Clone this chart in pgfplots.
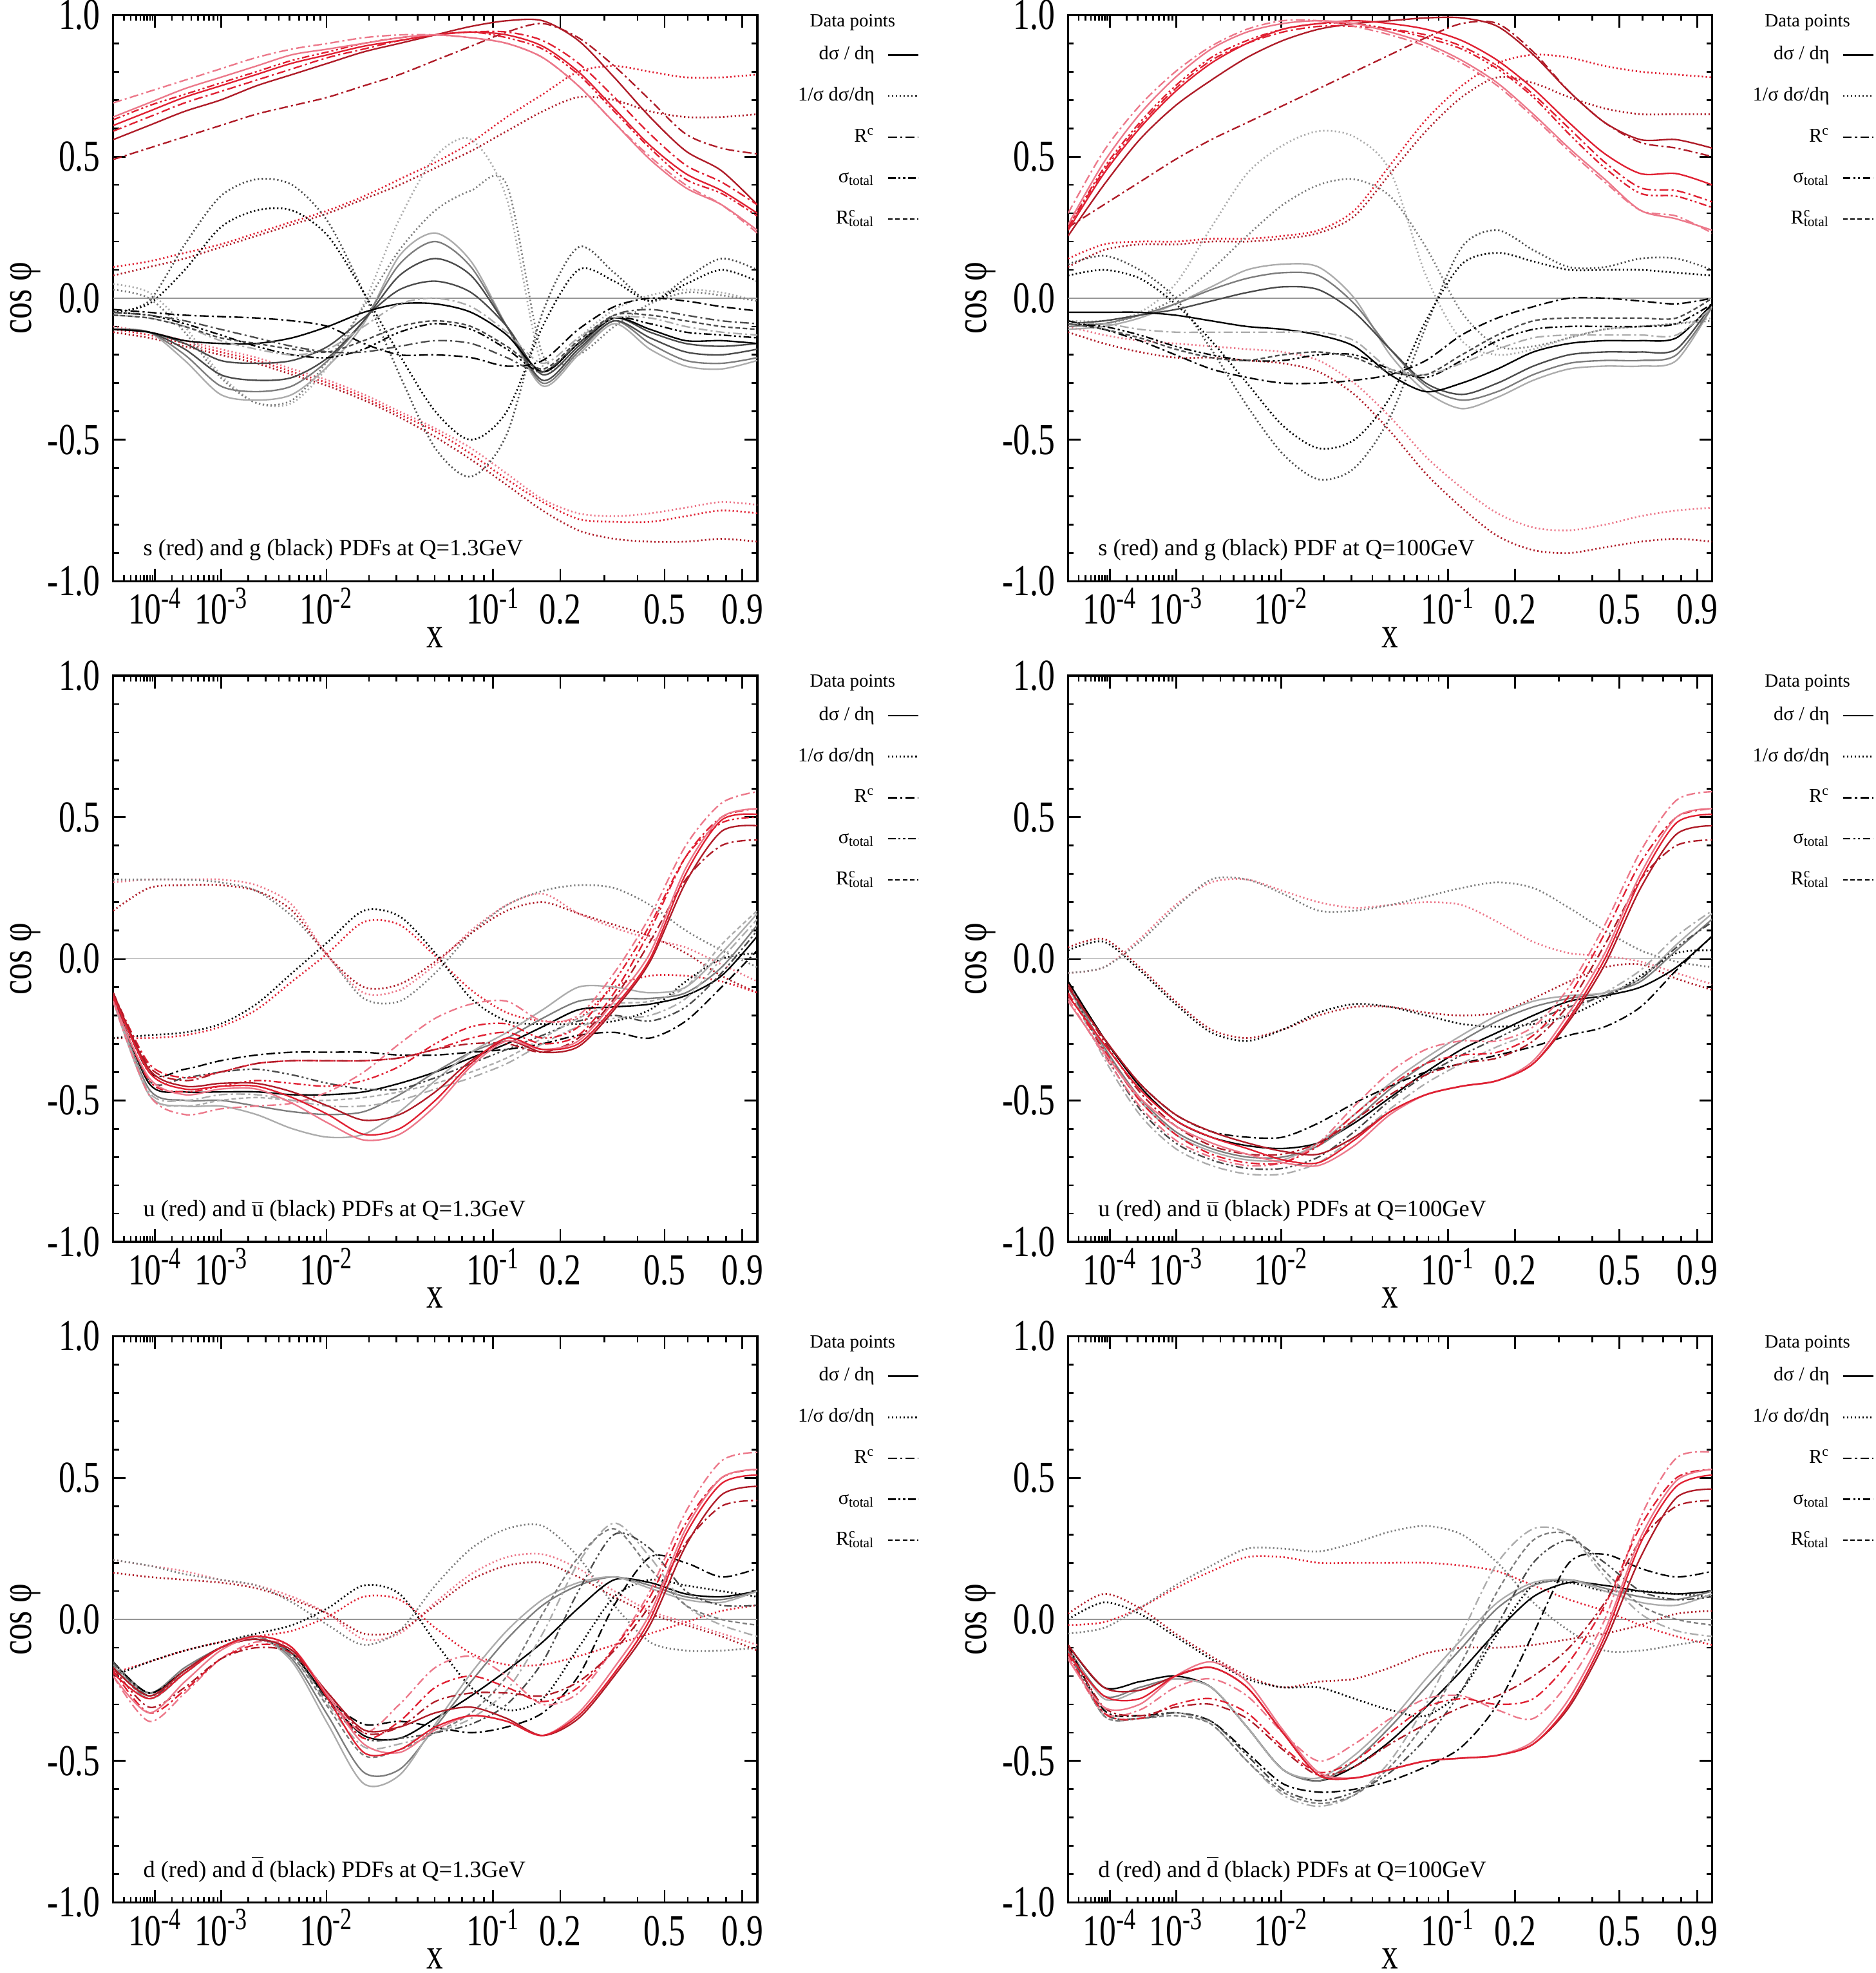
\documentclass[border=0pt]{standalone}
\usepackage{fontspec}
\setmainfont{Liberation Serif}
\newfontfamily\tickfont[FakeStretch=0.75]{Liberation Serif}
\usepackage{pgfplots}
\usepackage{pgfplotstable}
\pgfplotsset{compat=1.18}
\definecolor{dred}{RGB}{175,28,40}
\definecolor{rred}{RGB}{224,32,50}
\definecolor{pnk}{RGB}{236,120,138}
\definecolor{k1}{RGB}{75,75,75}
\definecolor{k2}{RGB}{125,125,125}
\definecolor{k3}{RGB}{172,172,172}
\definecolor{zl}{RGB}{150,150,150}
\tikzset{
 sol/.style={solid,line width=0.6pt},
 dot/.style={line width=0.7pt,dash pattern=on 0.55pt off 1.0pt},
 dd/.style={line width=0.6pt,dash pattern=on 3.5pt off 1.3pt on 0.8pt off 1.3pt},
 ddd/.style={line width=0.6pt,dash pattern=on 3pt off 1.1pt on 0.8pt off 1.1pt on 0.8pt off 1.1pt},
 dsh/.style={line width=0.6pt,dash pattern=on 1.8pt off 1.1pt},
 ptxt/.style={anchor=base west,font=\fontsize{9.3}{10}\selectfont},
 dtitle/.style={font=\fontsize{7.4}{8}\selectfont},
}
\newcommand{\pl}[3]{\addplot[#1,smooth,forget plot] table[x=u,y=#3]{#2};}
\newcommand{\leg}{%
 \addlegendimage{black,sol}\addlegendentry{dσ / dη}%
 \addlegendimage{black,dot}\addlegendentry{1/σ dσ/dη}%
 \addlegendimage{black,dd}\addlegendentry{R\textsuperscript{c}}%
 \addlegendimage{black,ddd}\addlegendentry{σ\textsubscript{total}}%
 \addlegendimage{black,dsh}\addlegendentry{R\rlap{\textsuperscript{c}}\textsubscript{total}}%
 \addplot[zl,line width=0.4pt,forget plot] coordinates {(0.1,0) (1,0)};%
}
\pgfplotsset{
 panel/.style={
  scale only axis, width=256pt, height=225pt, anchor=south west,
  xmin=0.1, xmax=1, ymin=-1, ymax=1,
  clip mode=individual,
  xtick={0.15849,0.25119,0.39811,0.63096,0.72478,0.87055,0.97915},
  xticklabels={10\textsuperscript{-4},10\textsuperscript{-3},10\textsuperscript{-2},10\textsuperscript{-1},0.2,0.5,0.9},
  minor xtick={0.11487,0.12457,0.13195,0.13797,0.14310,0.14758,0.15157,0.15518,0.18206,0.19743,0.20913,0.21867,0.22680,0.23390,0.24022,0.24595,0.28854,0.31291,0.33145,0.34657,0.35945,0.37071,0.38073,0.38980,0.45730,0.49592,0.52530,0.54927,0.56969,0.58753,0.60341,0.61778,0.78602,0.83255,0.90288,0.93115,0.95635},
  ytick={-1,-0.5,0,0.5,1},
  yticklabels={-1.0,-0.5,0.0,0.5,1.0},
  minor ytick={-0.9,-0.8,-0.7,-0.6,-0.4,-0.3,-0.2,-0.1,0.1,0.2,0.3,0.4,0.6,0.7,0.8,0.9},
  tick align=inside, tick pos=both,
  major tick length=5pt, minor tick length=2.3pt,
  every tick/.style={black,line width=0.7pt},
  axis line style={line width=0.8pt},
  ticklabel style={font=\fontsize{17.6}{19}\tickfont, inner sep=0pt},
  xticklabel style={anchor=base, yshift=-17pt},
  yticklabel style={anchor=east, xshift=-5pt},
  xlabel={x}, ylabel={cos φ},
  label style={font=\fontsize{17.6}{19}\tickfont, inner sep=0pt},
  xlabel style={at={(axis description cs:0.5,-0.099)}, anchor=center},
  ylabel style={at={(axis description cs:-0.136,0.5)}, anchor=center},
  legend cell align=right, legend plot pos=right,
  legend image code/.code={\draw[##1] (0pt,0pt) -- (12pt,0pt);},
  legend style={at={(1.252,0.953)}, anchor=north east, draw=none, fill=none,
   font=\fontsize{7.8}{8.5}\selectfont, row sep=6.1pt, column sep=4pt, inner sep=0pt,
   nodes={inner sep=1pt, text height=6pt, text depth=2.2pt}},
 },
}
% ---------------- panel 1: s and g, Q=1.3 GeV ----------------
\pgfplotstableread{
name c1 c2 c3 c4 c5 c6 c7 c8 c9 c10 c11 c12 c13 c14 c15 c16 c17 c18 c19
u 0.10 0.15 0.20 0.25 0.30 0.35 0.40 0.45 0.50 0.55 0.60 0.65 0.70 0.75 0.80 0.85 0.90 0.95 1.00
A1 0.49 0.53 0.57 0.61 0.65 0.68 0.71 0.75 0.79 0.84 0.89 0.94 0.97 0.92 0.82 0.70 0.58 0.53 0.51
A2 0.56 0.61 0.66 0.70 0.75 0.79 0.83 0.87 0.90 0.93 0.96 0.98 0.98 0.91 0.78 0.64 0.52 0.45 0.33
A3 0.59 0.64 0.69 0.73 0.77 0.81 0.85 0.88 0.91 0.93 0.94 0.94 0.91 0.83 0.71 0.58 0.47 0.41 0.33
A4 0.61 0.66 0.71 0.75 0.79 0.83 0.86 0.89 0.91 0.93 0.94 0.93 0.89 0.80 0.67 0.54 0.44 0.38 0.30
A5 0.63 0.68 0.72 0.76 0.80 0.84 0.87 0.90 0.92 0.93 0.94 0.92 0.88 0.79 0.66 0.53 0.42 0.37 0.29
A6 0.64 0.69 0.74 0.78 0.82 0.86 0.88 0.90 0.92 0.93 0.92 0.90 0.85 0.75 0.62 0.49 0.39 0.33 0.24
A7 0.69 0.73 0.77 0.81 0.85 0.88 0.90 0.92 0.93 0.93 0.92 0.90 0.85 0.75 0.62 0.50 0.40 0.33 0.23
D1 0.11 0.13 0.16 0.19 0.23 0.27 0.31 0.36 0.42 0.48 0.55 0.64 0.72 0.80 0.82 0.80 0.78 0.78 0.79
D2 0.08 0.11 0.14 0.18 0.22 0.26 0.30 0.35 0.40 0.46 0.52 0.59 0.66 0.71 0.70 0.66 0.64 0.64 0.65
D3 -0.10 -0.12 -0.15 -0.18 -0.21 -0.25 -0.29 -0.34 -0.40 -0.46 -0.53 -0.62 -0.71 -0.76 -0.77 -0.76 -0.74 -0.72 -0.73
D4 -0.11 -0.13 -0.16 -0.19 -0.22 -0.26 -0.30 -0.35 -0.41 -0.47 -0.55 -0.64 -0.72 -0.78 -0.79 -0.79 -0.77 -0.75 -0.76
D5 -0.12 -0.14 -0.17 -0.20 -0.23 -0.27 -0.31 -0.36 -0.42 -0.49 -0.57 -0.66 -0.75 -0.82 -0.85 -0.86 -0.86 -0.85 -0.86
G1 -0.05 -0.01 0.19 0.36 0.42 0.40 0.27 0.02 -0.27 -0.53 -0.63 -0.48 -0.05 0.18 0.09 -0.01 0.07 0.14 0.10
G2 -0.05 -0.02 0.10 0.25 0.31 0.31 0.22 0.02 -0.20 -0.40 -0.50 -0.40 -0.10 0.10 0.06 -0.01 0.05 0.10 0.06
G3 0.05 0.02 -0.10 -0.27 -0.37 -0.37 -0.24 -0.02 0.28 0.50 0.56 0.35 -0.24 -0.14 -0.04 0.01 0.03 0.02 -0.01
G4 0.03 0.00 -0.12 -0.28 -0.37 -0.36 -0.22 -0.03 0.17 0.31 0.38 0.40 -0.20 -0.20 -0.10 -0.02 0.02 0.01 -0.01
S1 -0.11 -0.12 -0.22 -0.34 -0.36 -0.34 -0.24 -0.09 0.15 0.23 0.13 -0.10 -0.31 -0.20 -0.09 -0.18 -0.24 -0.25 -0.22
S2 -0.11 -0.12 -0.20 -0.31 -0.33 -0.31 -0.22 -0.08 0.12 0.20 0.11 -0.10 -0.30 -0.19 -0.08 -0.16 -0.22 -0.23 -0.21
S3 -0.11 -0.12 -0.18 -0.27 -0.29 -0.28 -0.21 -0.08 0.08 0.14 0.08 -0.10 -0.29 -0.18 -0.08 -0.14 -0.19 -0.20 -0.18
S4 -0.11 -0.12 -0.16 -0.22 -0.23 -0.22 -0.17 -0.07 0.03 0.06 0.02 -0.10 -0.27 -0.17 -0.07 -0.12 -0.16 -0.17 -0.16
S5 -0.11 -0.12 -0.15 -0.16 -0.16 -0.14 -0.10 -0.05 -0.02 -0.02 -0.05 -0.13 -0.26 -0.16 -0.07 -0.11 -0.15 -0.15 -0.16
H1 -0.04 -0.05 -0.06 -0.065 -0.07 -0.08 -0.10 -0.16 -0.20 -0.20 -0.21 -0.24 -0.22 -0.11 -0.03 0.00 -0.01 -0.03 -0.045
H2 -0.05 -0.06 -0.09 -0.13 -0.17 -0.20 -0.21 -0.18 -0.12 -0.09 -0.11 -0.18 -0.26 -0.16 -0.07 -0.09 -0.12 -0.13 -0.14
H3 -0.06 -0.07 -0.10 -0.15 -0.18 -0.20 -0.18 -0.10 -0.02 0.00 -0.03 -0.12 -0.23 -0.14 -0.07 -0.07 -0.10 -0.12 -0.13
H4 -0.06 -0.07 -0.10 -0.14 -0.16 -0.18 -0.19 -0.15 -0.10 -0.08 -0.10 -0.17 -0.25 -0.15 -0.06 -0.06 -0.08 -0.10 -0.11
H5 -0.05 -0.06 -0.08 -0.11 -0.14 -0.17 -0.19 -0.19 -0.17 -0.15 -0.16 -0.21 -0.26 -0.16 -0.06 -0.04 -0.06 -0.08 -0.09
}\Ra
\pgfplotstabletranspose[colnames from=name]\Ta{\Ra}
% ---------------- panel 2: s and g, Q=100 GeV ----------------
\pgfplotstableread{
name c1 c2 c3 c4 c5 c6 c7 c8 c9 c10 c11 c12 c13 c14 c15 c16 c17 c18 c19
u 0.10 0.15 0.20 0.25 0.30 0.35 0.40 0.45 0.50 0.55 0.60 0.65 0.70 0.75 0.80 0.85 0.90 0.95 1.00
B1 0.25 0.33 0.41 0.49 0.56 0.62 0.68 0.74 0.80 0.86 0.92 0.97 0.97 0.87 0.73 0.62 0.55 0.53 0.50
B2 0.22 0.40 0.56 0.68 0.77 0.85 0.91 0.95 0.97 0.98 0.99 0.99 0.96 0.86 0.73 0.62 0.56 0.56 0.53
B3 0.24 0.44 0.60 0.73 0.83 0.90 0.95 0.97 0.98 0.97 0.95 0.91 0.84 0.74 0.62 0.51 0.44 0.44 0.40
B4 0.25 0.45 0.61 0.74 0.84 0.90 0.94 0.96 0.96 0.95 0.93 0.89 0.82 0.72 0.60 0.48 0.39 0.38 0.34
B5 0.25 0.46 0.62 0.75 0.85 0.91 0.95 0.97 0.97 0.95 0.92 0.88 0.81 0.71 0.58 0.46 0.37 0.36 0.32
B6 0.26 0.48 0.65 0.78 0.88 0.94 0.97 0.98 0.97 0.94 0.90 0.84 0.76 0.65 0.53 0.42 0.31 0.28 0.24
B7 0.30 0.52 0.68 0.80 0.89 0.95 0.98 0.98 0.96 0.93 0.89 0.83 0.75 0.64 0.52 0.41 0.31 0.29 0.23
E1 0.14 0.19 0.20 0.20 0.21 0.21 0.22 0.24 0.31 0.47 0.63 0.75 0.83 0.86 0.85 0.82 0.80 0.79 0.78
E2 0.11 0.17 0.19 0.19 0.20 0.20 0.21 0.23 0.29 0.44 0.59 0.71 0.78 0.76 0.71 0.67 0.65 0.65 0.65
E3 -0.10 -0.13 -0.15 -0.16 -0.17 -0.18 -0.19 -0.22 -0.30 -0.42 -0.56 -0.67 -0.76 -0.81 -0.82 -0.80 -0.77 -0.75 -0.74
E4 -0.12 -0.16 -0.19 -0.21 -0.21 -0.22 -0.23 -0.26 -0.34 -0.47 -0.62 -0.74 -0.84 -0.89 -0.90 -0.88 -0.86 -0.85 -0.86
F1 -0.08 -0.08 -0.05 0.05 0.25 0.44 0.54 0.59 0.57 0.45 0.08 -0.15 -0.20 -0.18 -0.14 -0.11 -0.10 -0.09 -0.07
F2 -0.09 -0.09 -0.06 0.00 0.10 0.22 0.33 0.40 0.42 0.36 0.18 -0.05 -0.17 -0.17 -0.14 -0.11 -0.10 -0.09 -0.08
GD1 0.12 0.15 0.10 0.00 -0.18 -0.38 -0.55 -0.64 -0.60 -0.42 -0.10 0.18 0.24 0.17 0.11 0.11 0.14 0.14 0.10
GD2 0.08 0.10 0.07 -0.02 -0.15 -0.30 -0.45 -0.53 -0.50 -0.35 -0.08 0.12 0.16 0.13 0.10 0.10 0.10 0.09 0.08
SS1 -0.11 -0.10 -0.07 -0.02 0.04 0.10 0.12 0.11 0.00 -0.20 -0.33 -0.39 -0.35 -0.29 -0.25 -0.24 -0.24 -0.22 -0.03
SS2 -0.10 -0.09 -0.06 -0.02 0.03 0.07 0.09 0.08 -0.02 -0.18 -0.31 -0.36 -0.33 -0.27 -0.23 -0.22 -0.22 -0.20 -0.03
SS3 -0.09 -0.08 -0.06 -0.04 -0.01 0.02 0.04 0.03 -0.05 -0.18 -0.30 -0.34 -0.30 -0.24 -0.20 -0.19 -0.19 -0.18 -0.02
SS4 -0.05 -0.05 -0.05 -0.06 -0.08 -0.10 -0.11 -0.13 -0.17 -0.27 -0.33 -0.30 -0.25 -0.19 -0.16 -0.15 -0.15 -0.14 -0.02
DP1 -0.08 -0.11 -0.15 -0.20 -0.25 -0.28 -0.30 -0.30 -0.29 -0.27 -0.22 -0.13 -0.07 -0.03 0.00 0.00 -0.01 -0.02 0.00
DP2 -0.09 -0.10 -0.13 -0.17 -0.20 -0.22 -0.22 -0.20 -0.20 -0.25 -0.28 -0.22 -0.15 -0.11 -0.10 -0.10 -0.10 -0.09 -0.02
DP3 -0.09 -0.09 -0.11 -0.12 -0.12 -0.12 -0.12 -0.12 -0.15 -0.25 -0.27 -0.23 -0.18 -0.14 -0.13 -0.13 -0.13 -0.13 -0.03
DP4 -0.09 -0.11 -0.14 -0.18 -0.21 -0.22 -0.20 -0.19 -0.21 -0.26 -0.27 -0.20 -0.13 -0.08 -0.07 -0.07 -0.07 -0.07 0.00
}\Rb
\pgfplotstabletranspose[colnames from=name]\Tb{\Rb}
% ---------------- panel 3: u and ubar, Q=1.3 GeV ----------------
\pgfplotstableread{
name c1 c2 c3 c4 c5 c6 c7 c8 c9 c10 c11 c12 c13 c14 c15 c16 c17 c18 c19
u 0.10 0.15 0.20 0.25 0.30 0.35 0.40 0.45 0.50 0.55 0.60 0.65 0.70 0.75 0.80 0.85 0.90 0.95 1.00
U1 -0.13 -0.40 -0.46 -0.45 -0.45 -0.49 -0.55 -0.62 -0.60 -0.50 -0.37 -0.28 -0.32 -0.30 -0.17 0.00 0.30 0.49 0.51
U2 -0.15 -0.42 -0.48 -0.46 -0.46 -0.51 -0.58 -0.64 -0.62 -0.52 -0.38 -0.29 -0.32 -0.29 -0.15 0.02 0.32 0.50 0.53
U3 -0.12 -0.39 -0.45 -0.44 -0.44 -0.47 -0.52 -0.57 -0.55 -0.47 -0.36 -0.29 -0.33 -0.31 -0.18 -0.01 0.27 0.45 0.47
U4 -0.12 -0.37 -0.42 -0.40 -0.37 -0.36 -0.36 -0.36 -0.35 -0.32 -0.28 -0.26 -0.30 -0.27 -0.12 0.10 0.36 0.50 0.53
U5 -0.15 -0.48 -0.55 -0.53 -0.52 -0.51 -0.47 -0.40 -0.30 -0.21 -0.16 -0.15 -0.22 -0.20 -0.05 0.15 0.40 0.55 0.59
U6 -0.14 -0.43 -0.47 -0.45 -0.43 -0.44 -0.45 -0.43 -0.38 -0.30 -0.24 -0.23 -0.28 -0.24 -0.08 0.12 0.36 0.48 0.50
U7 -0.12 -0.38 -0.43 -0.40 -0.37 -0.36 -0.36 -0.36 -0.35 -0.32 -0.30 -0.30 -0.33 -0.28 -0.14 0.06 0.28 0.40 0.42
FA1 0.27 0.28 0.28 0.28 0.26 0.19 0.01 -0.12 -0.11 -0.02 0.10 0.19 0.23 0.16 0.11 0.07 0.04 -0.02 -0.08
FA2 0.28 0.28 0.28 0.27 0.24 0.15 0.01 -0.14 -0.15 -0.05 0.09 0.19 0.24 0.26 0.25 0.19 0.10 0.03 -0.03
FA3 0.17 0.25 0.26 0.26 0.24 0.17 0.01 -0.10 -0.09 -0.01 0.09 0.17 0.20 0.16 0.12 0.08 0.02 -0.06 -0.12
FB1 -0.28 -0.28 -0.27 -0.24 -0.18 -0.08 0.02 0.13 0.12 0.01 -0.11 -0.19 -0.22 -0.21 -0.10 -0.06 -0.06 -0.08 -0.12
FB2 -0.28 -0.27 -0.26 -0.23 -0.16 -0.05 0.06 0.17 0.15 0.02 -0.14 -0.22 -0.23 -0.23 -0.22 -0.18 -0.08 0.00 0.02
BS1 -0.13 -0.44 -0.47 -0.47 -0.47 -0.48 -0.48 -0.47 -0.44 -0.40 -0.35 -0.30 -0.24 -0.18 -0.17 -0.16 -0.13 -0.06 0.08
BS2 -0.14 -0.46 -0.50 -0.50 -0.52 -0.54 -0.55 -0.54 -0.48 -0.40 -0.33 -0.28 -0.21 -0.15 -0.14 -0.14 -0.12 -0.03 0.12
BS3 -0.15 -0.48 -0.52 -0.52 -0.55 -0.60 -0.63 -0.62 -0.54 -0.43 -0.33 -0.26 -0.18 -0.10 -0.10 -0.12 -0.10 0.02 0.16
BD1 -0.12 -0.40 -0.39 -0.36 -0.34 -0.33 -0.33 -0.33 -0.34 -0.34 -0.33 -0.32 -0.30 -0.27 -0.26 -0.28 -0.22 -0.10 0.03
BD2 -0.14 -0.47 -0.50 -0.48 -0.48 -0.50 -0.52 -0.52 -0.50 -0.46 -0.42 -0.37 -0.30 -0.24 -0.21 -0.20 -0.14 0.00 0.14
BD3 -0.13 -0.43 -0.42 -0.40 -0.39 -0.41 -0.44 -0.46 -0.46 -0.42 -0.37 -0.32 -0.27 -0.22 -0.20 -0.22 -0.17 -0.05 0.10
BD4 -0.14 -0.48 -0.52 -0.50 -0.49 -0.50 -0.50 -0.49 -0.47 -0.44 -0.40 -0.35 -0.28 -0.21 -0.16 -0.15 -0.10 0.05 0.17
}\Rc
\pgfplotstabletranspose[colnames from=name]\Tc{\Rc}
% ---------------- panel 4: u and ubar, Q=100 GeV ----------------
\pgfplotstableread{
name c1 c2 c3 c4 c5 c6 c7 c8 c9 c10 c11 c12 c13 c14 c15 c16 c17 c18 c19
u 0.10 0.15 0.20 0.25 0.30 0.35 0.40 0.45 0.50 0.55 0.60 0.65 0.70 0.75 0.80 0.85 0.90 0.95 1.00
V1 -0.13 -0.30 -0.46 -0.57 -0.63 -0.67 -0.71 -0.72 -0.64 -0.54 -0.48 -0.45 -0.43 -0.37 -0.21 0.00 0.28 0.48 0.51
V2 -0.15 -0.33 -0.49 -0.59 -0.65 -0.69 -0.72 -0.73 -0.66 -0.55 -0.48 -0.45 -0.43 -0.36 -0.19 0.02 0.30 0.50 0.53
V3 -0.10 -0.28 -0.44 -0.55 -0.61 -0.65 -0.68 -0.69 -0.63 -0.54 -0.48 -0.45 -0.43 -0.37 -0.22 -0.02 0.25 0.44 0.47
V4 -0.14 -0.34 -0.52 -0.64 -0.70 -0.73 -0.72 -0.65 -0.52 -0.40 -0.32 -0.29 -0.29 -0.24 -0.10 0.12 0.38 0.56 0.59
V5 -0.12 -0.32 -0.50 -0.62 -0.69 -0.72 -0.72 -0.66 -0.55 -0.45 -0.37 -0.34 -0.33 -0.27 -0.13 0.09 0.34 0.50 0.53
V6 -0.09 -0.29 -0.47 -0.59 -0.66 -0.69 -0.69 -0.65 -0.57 -0.48 -0.41 -0.37 -0.35 -0.29 -0.16 0.05 0.28 0.40 0.42
WA1 0.04 0.07 -0.03 -0.15 -0.25 -0.28 -0.25 -0.20 -0.17 -0.17 -0.19 -0.20 -0.19 -0.14 -0.08 -0.03 -0.02 -0.07 -0.11
WA2 0.03 0.06 -0.04 -0.16 -0.26 -0.29 -0.25 -0.19 -0.16 -0.17 -0.20 -0.23 -0.24 -0.23 -0.20 -0.14 -0.06 0.02 0.03
WB1 -0.05 -0.03 0.07 0.19 0.27 0.28 0.24 0.20 0.18 0.19 0.20 0.19 0.13 0.06 0.02 0.01 -0.01 -0.05 -0.09
WB2 -0.05 -0.03 0.06 0.18 0.28 0.28 0.23 0.17 0.17 0.19 0.22 0.25 0.27 0.25 0.18 0.10 0.03 -0.01 -0.03
XS1 -0.08 -0.28 -0.45 -0.57 -0.63 -0.66 -0.67 -0.65 -0.58 -0.49 -0.40 -0.32 -0.26 -0.20 -0.15 -0.13 -0.10 -0.03 0.08
XS2 -0.09 -0.31 -0.49 -0.61 -0.67 -0.70 -0.70 -0.66 -0.57 -0.46 -0.37 -0.29 -0.22 -0.17 -0.14 -0.12 -0.08 0.03 0.14
XS3 -0.10 -0.32 -0.50 -0.62 -0.68 -0.71 -0.71 -0.65 -0.55 -0.44 -0.35 -0.27 -0.20 -0.15 -0.13 -0.12 -0.07 0.05 0.16
XD1 -0.08 -0.28 -0.44 -0.55 -0.61 -0.63 -0.63 -0.58 -0.51 -0.45 -0.40 -0.37 -0.34 -0.31 -0.27 -0.24 -0.17 -0.04 0.08
XD2 -0.10 -0.35 -0.55 -0.67 -0.73 -0.76 -0.76 -0.72 -0.63 -0.53 -0.44 -0.37 -0.31 -0.26 -0.19 -0.12 -0.04 0.08 0.17
XD3 -0.09 -0.33 -0.53 -0.65 -0.71 -0.74 -0.74 -0.70 -0.61 -0.50 -0.41 -0.34 -0.28 -0.22 -0.17 -0.13 -0.07 0.04 0.13
}\Rd
\pgfplotstabletranspose[colnames from=name]\Td{\Rd}
% ---------------- panel 5: d and dbar, Q=1.3 GeV ----------------
\pgfplotstableread{
name c1 c2 c3 c4 c5 c6 c7 c8 c9 c10 c11 c12 c13 c14 c15 c16 c17 c18 c19
u 0.10 0.15 0.20 0.25 0.30 0.35 0.40 0.45 0.50 0.55 0.60 0.65 0.70 0.75 0.80 0.85 0.90 0.95 1.00
R1 -0.19 -0.28 -0.19 -0.10 -0.06 -0.10 -0.28 -0.47 -0.46 -0.38 -0.34 -0.36 -0.41 -0.34 -0.19 0.00 0.30 0.48 0.51
R2 -0.20 -0.33 -0.22 -0.11 -0.06 -0.10 -0.27 -0.44 -0.47 -0.39 -0.34 -0.36 -0.41 -0.33 -0.17 0.02 0.32 0.50 0.53
R3 -0.17 -0.27 -0.18 -0.10 -0.07 -0.11 -0.26 -0.39 -0.38 -0.33 -0.31 -0.35 -0.41 -0.35 -0.20 -0.02 0.26 0.44 0.47
R4 -0.20 -0.36 -0.26 -0.14 -0.08 -0.10 -0.27 -0.40 -0.30 -0.17 -0.13 -0.20 -0.30 -0.26 -0.10 0.10 0.38 0.56 0.59
R5 -0.18 -0.33 -0.25 -0.14 -0.09 -0.11 -0.27 -0.42 -0.36 -0.24 -0.20 -0.24 -0.29 -0.24 -0.10 0.08 0.34 0.50 0.53
R6 -0.17 -0.31 -0.24 -0.14 -0.10 -0.12 -0.26 -0.40 -0.38 -0.29 -0.26 -0.26 -0.27 -0.22 -0.11 0.05 0.27 0.40 0.42
DA1 0.21 0.19 0.17 0.14 0.12 0.08 0.02 -0.07 -0.05 0.06 0.16 0.22 0.23 0.18 0.10 0.03 -0.01 -0.05 -0.09
DA2 0.21 0.19 0.16 0.14 0.12 0.06 -0.02 -0.09 -0.04 0.12 0.25 0.32 0.33 0.22 0.05 -0.08 -0.11 -0.11 -0.10
DA3 0.165 0.15 0.14 0.13 0.11 0.07 0.02 -0.05 -0.04 0.05 0.14 0.19 0.20 0.15 0.08 0.02 -0.02 -0.06 -0.11
DB1 -0.19 -0.15 -0.11 -0.08 -0.06 -0.04 0.01 0.08 0.07 -0.03 -0.12 -0.16 -0.16 -0.13 -0.09 -0.05 -0.01 0.03 0.05
DB2 -0.20 -0.15 -0.11 -0.08 -0.05 -0.02 0.04 0.12 0.09 -0.08 -0.24 -0.32 -0.28 -0.10 0.08 0.14 0.12 0.10 0.08
K1 -0.15 -0.26 -0.18 -0.10 -0.07 -0.12 -0.28 -0.41 -0.42 -0.35 -0.27 -0.18 -0.08 0.04 0.14 0.13 0.09 0.08 0.10
K2 -0.15 -0.26 -0.17 -0.10 -0.06 -0.14 -0.34 -0.54 -0.53 -0.38 -0.22 -0.07 0.05 0.12 0.15 0.12 0.08 0.07 0.10
K3 -0.15 -0.27 -0.18 -0.10 -0.06 -0.15 -0.37 -0.58 -0.55 -0.37 -0.19 -0.04 0.07 0.13 0.15 0.11 0.07 0.06 0.10
L1 -0.15 -0.26 -0.18 -0.10 -0.07 -0.12 -0.28 -0.37 -0.36 -0.38 -0.40 -0.38 -0.33 -0.20 0.05 0.22 0.20 0.15 0.18
L2 -0.16 -0.28 -0.19 -0.10 -0.06 -0.13 -0.30 -0.45 -0.44 -0.40 -0.35 -0.25 -0.05 0.20 0.34 0.22 0.05 -0.02 -0.06
L3 -0.15 -0.27 -0.19 -0.10 -0.07 -0.12 -0.29 -0.42 -0.42 -0.40 -0.37 -0.30 -0.15 0.10 0.30 0.25 0.10 0.05 0.05
L4 -0.16 -0.28 -0.19 -0.10 -0.06 -0.13 -0.31 -0.48 -0.46 -0.40 -0.33 -0.20 0.02 0.22 0.32 0.18 0.05 0.00 -0.02
}\Re
\pgfplotstabletranspose[colnames from=name]\Te{\Re}
% ---------------- panel 6: d and dbar, Q=100 GeV ----------------
\pgfplotstableread{
name c1 c2 c3 c4 c5 c6 c7 c8 c9 c10 c11 c12 c13 c14 c15 c16 c17 c18 c19
u 0.10 0.15 0.20 0.25 0.30 0.35 0.40 0.45 0.50 0.55 0.60 0.65 0.70 0.75 0.80 0.85 0.90 0.95 1.00
P1 -0.12 -0.27 -0.28 -0.20 -0.17 -0.24 -0.40 -0.55 -0.56 -0.53 -0.50 -0.49 -0.48 -0.44 -0.30 -0.06 0.27 0.47 0.51
P2 -0.14 -0.31 -0.30 -0.20 -0.15 -0.22 -0.39 -0.54 -0.56 -0.53 -0.50 -0.49 -0.48 -0.43 -0.28 -0.04 0.29 0.49 0.53
P3 -0.09 -0.24 -0.25 -0.20 -0.17 -0.24 -0.40 -0.55 -0.56 -0.53 -0.50 -0.49 -0.48 -0.44 -0.31 -0.08 0.22 0.43 0.46
P4 -0.13 -0.33 -0.32 -0.24 -0.21 -0.27 -0.40 -0.50 -0.44 -0.35 -0.28 -0.27 -0.32 -0.35 -0.22 0.00 0.36 0.57 0.59
P5 -0.12 -0.33 -0.35 -0.30 -0.28 -0.33 -0.45 -0.54 -0.50 -0.40 -0.31 -0.28 -0.30 -0.28 -0.15 0.05 0.33 0.50 0.53
P6 -0.10 -0.31 -0.34 -0.31 -0.30 -0.35 -0.46 -0.55 -0.52 -0.44 -0.37 -0.31 -0.27 -0.20 -0.10 0.06 0.28 0.40 0.42
PA1 0.02 0.09 0.04 -0.05 -0.13 -0.20 -0.24 -0.22 -0.21 -0.17 -0.12 -0.10 -0.10 -0.09 -0.07 -0.05 -0.02 0.02 0.03
PA2 0.00 0.06 0.02 -0.06 -0.14 -0.21 -0.24 -0.24 -0.28 -0.32 -0.34 -0.25 -0.05 0.12 0.13 0.10 0.10 0.09 0.08
PB1 -0.02 -0.01 0.04 0.11 0.17 0.22 0.22 0.20 0.20 0.20 0.20 0.19 0.17 0.12 0.07 0.03 -0.02 -0.06 -0.09
PB2 -0.05 -0.03 0.04 0.12 0.19 0.25 0.25 0.24 0.27 0.31 0.33 0.30 0.20 0.06 -0.04 -0.11 -0.11 -0.09 -0.07
Q1 -0.09 -0.24 -0.22 -0.20 -0.24 -0.38 -0.53 -0.57 -0.52 -0.43 -0.31 -0.18 -0.04 0.08 0.13 0.12 0.10 0.09 0.10
Q2 -0.10 -0.27 -0.24 -0.21 -0.24 -0.38 -0.53 -0.57 -0.50 -0.38 -0.24 -0.10 0.04 0.12 0.14 0.11 0.08 0.07 0.10
Q3 -0.10 -0.28 -0.25 -0.21 -0.24 -0.38 -0.53 -0.56 -0.48 -0.36 -0.21 -0.07 0.06 0.13 0.14 0.10 0.06 0.05 0.09
Q4 -0.09 -0.32 -0.34 -0.33 -0.36 -0.47 -0.58 -0.61 -0.60 -0.57 -0.52 -0.45 -0.30 -0.05 0.20 0.23 0.18 0.15 0.17
Q5 -0.11 -0.34 -0.35 -0.33 -0.37 -0.50 -0.62 -0.66 -0.62 -0.50 -0.30 -0.05 0.20 0.32 0.30 0.15 0.02 -0.04 -0.06
Q6 -0.10 -0.33 -0.35 -0.33 -0.36 -0.48 -0.60 -0.64 -0.61 -0.54 -0.42 -0.25 -0.02 0.20 0.28 0.20 0.10 0.07 0.08
Q7 -0.11 -0.34 -0.35 -0.34 -0.37 -0.50 -0.61 -0.65 -0.62 -0.52 -0.36 -0.15 0.10 0.28 0.30 0.17 0.05 0.00 -0.02
}\Rf
\pgfplotstabletranspose[colnames from=name]\Tf{\Rf}
\begin{document}%
\begin{tikzpicture}
\path[use as bounding box] (0,0) rectangle (745.5pt,784pt);
% ===== panel 1 =====
\begin{axis}[panel,at={(45pt,553pt)}]
\leg
\pl{rred,dot}{\Ta}{D1}\pl{dred,dot}{\Ta}{D2}\pl{pnk,dot}{\Ta}{D3}\pl{rred,dot}{\Ta}{D4}\pl{dred,dot}{\Ta}{D5}
\pl{k1,dot}{\Ta}{G1}\pl{black,dot}{\Ta}{G2}\pl{k3,dot}{\Ta}{G3}\pl{k2,dot}{\Ta}{G4}
\pl{k3,sol}{\Ta}{S1}\pl{k2,sol}{\Ta}{S2}\pl{k1,sol}{\Ta}{S3}\pl{k1,sol}{\Ta}{S4}\pl{black,sol}{\Ta}{S5}
\pl{black,dd}{\Ta}{H1}\pl{black,ddd}{\Ta}{H2}\pl{k3,dd}{\Ta}{H3}\pl{k1,dsh}{\Ta}{H4}\pl{k1,dd}{\Ta}{H5}
\pl{dred,dd}{\Ta}{A1}\pl{dred,sol}{\Ta}{A2}\pl{rred,dd}{\Ta}{A3}\pl{rred,sol}{\Ta}{A4}\pl{rred,ddd}{\Ta}{A5}\pl{pnk,sol}{\Ta}{A6}\pl{pnk,dd}{\Ta}{A7}
\node[ptxt] at (rel axis cs:0.033,0.045) {s (red) and g (black) PDFs at Q=1.3GeV};
\node[dtitle] at (rel axis cs:1.148,0.987) {Data points};
\end{axis}
% ===== panel 2 =====
\begin{axis}[panel,at={(424.5pt,553pt)}]
\leg
\pl{rred,dot}{\Tb}{E1}\pl{dred,dot}{\Tb}{E2}\pl{pnk,dot}{\Tb}{E3}\pl{dred,dot}{\Tb}{E4}
\pl{k3,dot}{\Tb}{F1}\pl{k2,dot}{\Tb}{F2}\pl{k1,dot}{\Tb}{GD1}\pl{black,dot}{\Tb}{GD2}
\pl{k3,sol}{\Tb}{SS1}\pl{k2,sol}{\Tb}{SS2}\pl{k1,sol}{\Tb}{SS3}\pl{black,sol}{\Tb}{SS4}
\pl{black,dd}{\Tb}{DP1}\pl{black,ddd}{\Tb}{DP2}\pl{k3,dd}{\Tb}{DP3}\pl{k1,dsh}{\Tb}{DP4}
\pl{dred,dd}{\Tb}{B1}\pl{dred,sol}{\Tb}{B2}\pl{rred,sol}{\Tb}{B3}\pl{rred,dd}{\Tb}{B4}\pl{rred,ddd}{\Tb}{B5}\pl{pnk,sol}{\Tb}{B6}\pl{pnk,dd}{\Tb}{B7}
\node[ptxt] at (rel axis cs:0.033,0.045) {s (red) and g (black) PDF at Q=100GeV};
\node[dtitle] at (rel axis cs:1.148,0.987) {Data points};
\end{axis}
% ===== panel 3 =====
\begin{axis}[panel,at={(45pt,290.5pt)}]
\leg
\pl{pnk,dot}{\Tc}{FA1}\pl{k2,dot}{\Tc}{FA2}\pl{dred,dot}{\Tc}{FA3}\pl{rred,dot}{\Tc}{FB1}\pl{black,dot}{\Tc}{FB2}
\pl{black,sol}{\Tc}{BS1}\pl{k2,sol}{\Tc}{BS2}\pl{k3,sol}{\Tc}{BS3}
\pl{black,dd}{\Tc}{BD1}\pl{k3,dd}{\Tc}{BD2}\pl{k1,ddd}{\Tc}{BD3}\pl{k3,dsh}{\Tc}{BD4}
\pl{rred,dd}{\Tc}{U4}\pl{pnk,dd}{\Tc}{U5}\pl{rred,ddd}{\Tc}{U6}\pl{dred,dd}{\Tc}{U7}
\pl{dred,sol}{\Tc}{U3}\pl{pnk,sol}{\Tc}{U2}\pl{rred,sol}{\Tc}{U1}
\node[ptxt] at (rel axis cs:0.033,0.045) {u (red) and $\overline{\mbox{u}}$ (black) PDFs at Q=1.3GeV};
\node[dtitle] at (rel axis cs:1.148,0.987) {Data points};
\end{axis}
% ===== panel 4 =====
\begin{axis}[panel,at={(424.5pt,290.5pt)}]
\leg
\pl{dred,dot}{\Td}{WA1}\pl{black,dot}{\Td}{WA2}\pl{pnk,dot}{\Td}{WB1}\pl{k2,dot}{\Td}{WB2}
\pl{black,sol}{\Td}{XS1}\pl{k2,sol}{\Td}{XS2}\pl{k3,sol}{\Td}{XS3}
\pl{black,dd}{\Td}{XD1}\pl{k3,dd}{\Td}{XD2}\pl{k1,ddd}{\Td}{XD3}
\pl{pnk,dd}{\Td}{V4}\pl{rred,dd}{\Td}{V5}\pl{dred,dd}{\Td}{V6}
\pl{dred,sol}{\Td}{V3}\pl{pnk,sol}{\Td}{V2}\pl{rred,sol}{\Td}{V1}
\node[ptxt] at (rel axis cs:0.033,0.045) {u (red) and $\overline{\mbox{u}}$ (black) PDFs at Q=100GeV};
\node[dtitle] at (rel axis cs:1.148,0.987) {Data points};
\end{axis}
% ===== panel 5 =====
\begin{axis}[panel,at={(45pt,28pt)}]
\leg
\pl{pnk,dot}{\Te}{DA1}\pl{k2,dot}{\Te}{DA2}\pl{dred,dot}{\Te}{DA3}\pl{rred,dot}{\Te}{DB1}\pl{black,dot}{\Te}{DB2}
\pl{black,sol}{\Te}{K1}\pl{k2,sol}{\Te}{K2}\pl{k3,sol}{\Te}{K3}
\pl{black,dd}{\Te}{L1}\pl{k3,dd}{\Te}{L2}\pl{k1,ddd}{\Te}{L3}\pl{k2,dsh}{\Te}{L4}
\pl{pnk,dd}{\Te}{R4}\pl{rred,dd}{\Te}{R5}\pl{dred,dd}{\Te}{R6}
\pl{dred,sol}{\Te}{R3}\pl{pnk,sol}{\Te}{R2}\pl{rred,sol}{\Te}{R1}
\node[ptxt] at (rel axis cs:0.033,0.045) {d (red) and $\overline{\mbox{d}}$ (black) PDFs at Q=1.3GeV};
\node[dtitle] at (rel axis cs:1.148,0.987) {Data points};
\end{axis}
% ===== panel 6 =====
\begin{axis}[panel,at={(424.5pt,28pt)}]
\leg
\pl{dred,dot}{\Tf}{PA1}\pl{black,dot}{\Tf}{PA2}\pl{rred,dot}{\Tf}{PB1}\pl{k2,dot}{\Tf}{PB2}
\pl{black,sol}{\Tf}{Q1}\pl{k2,sol}{\Tf}{Q2}\pl{k3,sol}{\Tf}{Q3}
\pl{black,dd}{\Tf}{Q4}\pl{k3,dd}{\Tf}{Q5}\pl{k1,ddd}{\Tf}{Q6}\pl{k2,dsh}{\Tf}{Q7}
\pl{pnk,dd}{\Tf}{P4}\pl{rred,dd}{\Tf}{P5}\pl{dred,dd}{\Tf}{P6}
\pl{dred,sol}{\Tf}{P3}\pl{pnk,sol}{\Tf}{P2}\pl{rred,sol}{\Tf}{P1}
\node[ptxt] at (rel axis cs:0.033,0.045) {d (red) and $\overline{\mbox{d}}$ (black) PDFs at Q=100GeV};
\node[dtitle] at (rel axis cs:1.148,0.987) {Data points};
\end{axis}
\end{tikzpicture}%
\end{document}
